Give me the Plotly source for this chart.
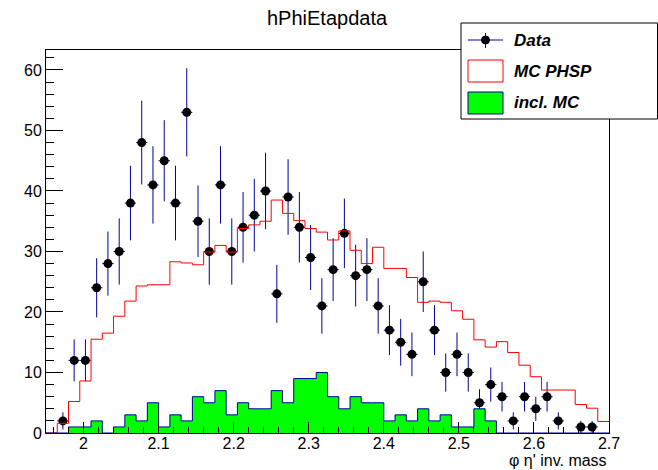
import numpy as np
import plotly.graph_objects as go

# ---- data ----
bin_low = 1.95
bin_width = 0.015
n_bins = 50
data_counts = [0, 2, 12, 12, 24, 28, 30, 38, 48, 41, 45, 38, 53, 35, 30, 41, 30, 34, 36, 40,
               23, 39, 34, 29, 21, 27, 33, 26, 27, 21, 17, 15, 13, 25, 17, 10, 13, 10, 5, 8,
               6, 2, 6, 4, 6, 2, 0, 1, 1, 0]
mc_phsp = [0, 1.6, 5.2, 8.6, 15.5, 16.5, 19.3, 21.8, 24.3, 24.5, 24.5, 28.3, 28.1, 27.8, 29.9,
           31.0, 29.9, 33.8, 34.4, 35.0, 38.5, 36.3, 35.1, 33.8, 33.2, 31.9, 33.4, 30.2, 28.0,
           30.7, 27.2, 27.2, 25.7, 21.6, 21.8, 21.6, 20.2, 18.8, 15.4, 14.2, 15.1, 13.3, 11.2,
           9.3, 7.1, 7.1, 7.1, 4.7, 4.1, 1.9]
incl_mc = [0, 0, 1, 1, 2, 0, 1, 3, 2, 5, 1, 3, 2, 6, 5, 7, 3, 5, 4, 4,
           7, 5, 9, 9, 10, 6, 4, 6, 5, 5, 2, 3, 2, 4, 2, 3, 1, 1, 4, 2,
           0, 0, 0, 0, 0, 0, 0, 0, 0, 0]
x_tick_vals = [2.0, 2.1, 2.2, 2.3, 2.4, 2.5, 2.6, 2.7]
x_tick_text = ["2", "2.1", "2.2", "2.3", "2.4", "2.5", "2.6", "2.7"]
legend_labels = ["Data", "MC PHSP", "incl. MC"]

edges = bin_low + bin_width * np.arange(n_bins + 1)
centers = edges[:-1] + bin_width / 2
counts = np.array(data_counts, dtype=float)
mask = counts > 0

FONT = "Liberation Sans, Arial, Helvetica, sans-serif"
NAVY = "#000099"

# plot area in pixels
L, R, T, B = 46, 609, 50, 433
W, H = 658, 470


def px(x):
    return (x - L) / (R - L)


def py(y):
    return (B - y) / (B - T)


fig = go.Figure()

# data with errors
fig.add_trace(go.Scatter(
    x=centers[mask], y=counts[mask], mode="markers",
    marker=dict(color="black", size=9, symbol="circle"),
    error_y=dict(type="data", array=np.sqrt(counts[mask]), color=NAVY, thickness=1, width=0),
    error_x=dict(type="constant", value=bin_width / 2, color=NAVY, thickness=1, width=0),
    showlegend=False, cliponaxis=False,
))

# MC PHSP step line
step_x = list(edges)
step_y = list(mc_phsp) + [mc_phsp[-1]]
fig.add_trace(go.Scatter(
    x=step_x, y=step_y, mode="lines", line=dict(color="#ff0000", width=1, shape="hv"),
    showlegend=False,
))

# incl. MC filled step
g_y = list(incl_mc) + [incl_mc[-1]]
fig.add_trace(go.Scatter(
    x=step_x, y=g_y, mode="lines", line=dict(color=NAVY, width=1, shape="hv"),
    fill="tozeroy", fillcolor="#00ff00", showlegend=False,
))

fig.update_layout(
    width=W, height=H,
    margin=dict(l=L, r=W - R, t=T, b=H - B),
    paper_bgcolor="white", plot_bgcolor="white",
    font=dict(family=FONT, color="black", size=16),
    showlegend=False,
)
fig.update_xaxes(
    range=[edges[0], edges[-1]], tickvals=x_tick_vals, ticktext=x_tick_text,
    ticks="inside", ticklen=11, tickcolor="black", tickwidth=1,
    minor=dict(dtick=0.02, tick0=2.0, ticks="inside", ticklen=6, tickcolor="black", showgrid=False),
    showline=True, linecolor="black", linewidth=1, mirror=True,
    showgrid=False, zeroline=False, tickfont=dict(size=16, family=FONT),
    ticklabelstandoff=-4,
)
fig.update_yaxes(
    range=[0, 63.3], dtick=10, tick0=0,
    ticks="inside", ticklen=17, tickcolor="black", tickwidth=1,
    minor=dict(dtick=2, ticks="inside", ticklen=8, tickcolor="black", showgrid=False),
    showline=True, linecolor="black", linewidth=1, mirror=True,
    showgrid=False, zeroline=False, tickfont=dict(size=16, family=FONT),
)

annotations = [
    dict(text="hPhiEtapdata", x=px(327), y=py(18), xref="paper", yref="paper",
         xanchor="center", yanchor="middle", showarrow=False, font=dict(size=20, family=FONT)),
    dict(text="\u03c6 \u03b7' inv. mass", x=px(609), y=py(461), xref="paper", yref="paper",
         xanchor="right", yanchor="middle", showarrow=False, font=dict(size=16, family=FONT)),
]
for lab, yy in zip(legend_labels, [40, 71, 102]):
    annotations.append(dict(text="<b><i>%s</i></b>" % lab, x=px(512), y=py(yy), xref="paper", yref="paper",
                            xanchor="left", yanchor="middle", showarrow=False,
                            font=dict(size=17, family=FONT)))

shapes = [
    dict(type="rect", xref="paper", yref="paper", x0=px(461), x1=px(657.5), y0=py(119), y1=py(23),
         line=dict(color="black", width=1), fillcolor="white", layer="above"),
    dict(type="line", xref="paper", yref="paper", x0=px(468), x1=px(503), y0=py(40), y1=py(40),
         line=dict(color=NAVY, width=1), layer="above"),
    dict(type="line", xref="paper", yref="paper", x0=px(485.5), x1=px(485.5), y0=py(33), y1=py(48),
         line=dict(color=NAVY, width=1), layer="above"),
    dict(type="circle", xref="paper", yref="paper", x0=px(481.5), x1=px(489.5), y0=py(44), y1=py(36),
         line=dict(color="black", width=1), fillcolor="black", layer="above"),
    dict(type="rect", xref="paper", yref="paper", x0=px(468), x1=px(503), y0=py(82), y1=py(60),
         line=dict(color="#ff0000", width=1), fillcolor="white", layer="above"),
    dict(type="rect", xref="paper", yref="paper", x0=px(468), x1=px(503), y0=py(114), y1=py(92),
         line=dict(color=NAVY, width=1), fillcolor="#00ff00", layer="above"),
]
fig.update_layout(annotations=annotations, shapes=shapes)

fig.write_html("out.html")
